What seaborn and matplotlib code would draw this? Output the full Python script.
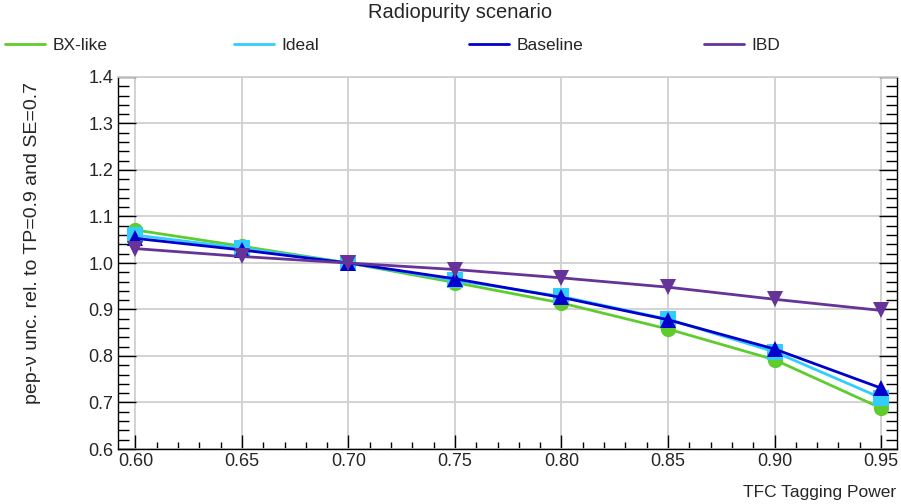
import matplotlib
matplotlib.use("Agg")
import matplotlib.pyplot as plt
from matplotlib.lines import Line2D
from matplotlib.ticker import MultipleLocator, FormatStrFormatter
import seaborn as sns
import pandas as pd

tagging_power = [0.60, 0.65, 0.70, 0.75, 0.80, 0.85, 0.90, 0.95]
bx_like  = [1.071, 1.036, 1.000, 0.958, 0.914, 0.858, 0.792, 0.688]
ideal    = [1.060, 1.032, 1.000, 0.963, 0.928, 0.879, 0.809, 0.710]
baseline = [1.053, 1.028, 1.000, 0.966, 0.926, 0.878, 0.815, 0.731]
ibd      = [1.031, 1.014, 1.000, 0.986, 0.968, 0.948, 0.922, 0.898]

scenarios = ["BX-like", "Ideal", "Baseline", "IBD"]
series = [bx_like, ideal, baseline, ibd]
colors = {"BX-like": "#5fcc2e", "Ideal": "#33ccff", "Baseline": "#0000cc", "IBD": "#663399"}
markers = {"BX-like": "o", "Ideal": "s", "Baseline": "^", "IBD": "v"}

rows = []
for name, vals in zip(scenarios, series):
    for x, y in zip(tagging_power, vals):
        rows.append({"tp": x, "val": y, "scenario": name})
df = pd.DataFrame(rows)

sns.set_style("white")
plt.rcParams["font.family"] = ["Liberation Sans", "DejaVu Sans"]

fig = plt.figure(figsize=(9.01, 5.04), dpi=100)
ax = fig.add_axes([117.7 / 901, 1 - 449 / 504, (897 - 117.7) / 901, (449 - 77) / 504])

sns.lineplot(data=df, x="tp", y="val", hue="scenario", style="scenario",
             hue_order=scenarios, style_order=scenarios,
             palette=colors, markers=markers, dashes=False,
             markersize=11, markeredgewidth=0, linewidth=2.0,
             legend=False, ax=ax)

ax.set_xlim(0.5917, 0.9575)
ax.set_ylim(0.6, 1.4)
ax.xaxis.set_major_locator(MultipleLocator(0.05))
ax.xaxis.set_minor_locator(MultipleLocator(0.01))
ax.yaxis.set_major_locator(MultipleLocator(0.1))
ax.yaxis.set_minor_locator(MultipleLocator(0.02))
ax.xaxis.set_major_formatter(FormatStrFormatter("%.2f"))
ax.yaxis.set_major_formatter(FormatStrFormatter("%.1f"))

ax.grid(True, which="major", color="#d0d0d0", linewidth=1.3)
ax.set_axisbelow(True)
ax.tick_params(axis="x", which="major", direction="in", length=10, width=1, color="black",
               labelsize=13, pad=3, bottom=True, top=False)
ax.tick_params(axis="x", which="minor", direction="in", length=5, width=1, color="black",
               bottom=True, top=False)
ax.tick_params(axis="y", which="major", direction="in", length=13, width=1, color="black",
               labelsize=13, pad=3, left=True, right=True)
ax.tick_params(axis="y", which="minor", direction="in", length=8, width=1, color="black",
               left=True, right=True)
for side in ["left", "bottom", "right"]:
    ax.spines[side].set_color("black")
    ax.spines[side].set_linewidth(1.0)
ax.spines["top"].set_color("#d0d0d0")
ax.spines["top"].set_linewidth(1.3)
ax.set_xlabel("")
ax.set_ylabel("")

fig.text(896 / 901, 1 - 493 / 504, "TFC Tagging Power", ha="right", va="center", fontsize=12.5)
fig.text(33 / 901, 1 - 82 / 504, "pep-ν unc. rel. to TP=0.9 and SE=0.7",
         rotation=90, ha="center", va="top", fontsize=14)
fig.text(460 / 901, 1 - 13 / 504, "Radiopurity scenario", ha="center", va="center", fontsize=14.5)

starts = [8, 237, 472, 707]
for name, x0 in zip(scenarios, starts):
    h = Line2D([], [], color=colors[name], linewidth=2.0)
    leg = fig.legend([h], [name], loc="center left",
                     bbox_to_anchor=(x0 / 901 - 0.003, 1 - 45 / 504),
                     frameon=False, fontsize=12.5, handlelength=2.3,
                     handletextpad=0.4, borderpad=0, borderaxespad=0)

fig.savefig("out.png", dpi=100)
